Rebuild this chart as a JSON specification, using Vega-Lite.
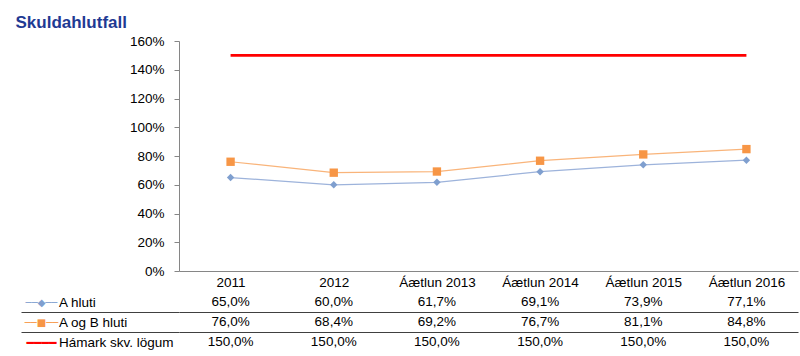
{
  "$schema": "https://vega.github.io/schema/vega-lite/v6.json",
  "background": "white",
  "padding": {"left": 15, "right": 3, "top": 14, "bottom": 4},
  "title": {"text": "Skuldahlutfall", "anchor": "start", "frame": "bounds", "font": "Liberation Sans", "fontSize": 17, "fontWeight": "bold", "color": "#1F3A93", "offset": 2, "dx": -5},
  "config": {
    "view": {"stroke": null},
    "font": "Liberation Sans",
    "locale": {"number": {"decimal": ",", "thousands": ".", "grouping": [3], "currency": ["", ""]}}
  },
  "data": {"values": [
    {"cat": "2011", "series": "A hluti", "value": 0.650},
    {"cat": "2012", "series": "A hluti", "value": 0.600},
    {"cat": "Áætlun 2013", "series": "A hluti", "value": 0.617},
    {"cat": "Áætlun 2014", "series": "A hluti", "value": 0.691},
    {"cat": "Áætlun 2015", "series": "A hluti", "value": 0.739},
    {"cat": "Áætlun 2016", "series": "A hluti", "value": 0.771},
    {"cat": "2011", "series": "A og B hluti", "value": 0.760},
    {"cat": "2012", "series": "A og B hluti", "value": 0.684},
    {"cat": "Áætlun 2013", "series": "A og B hluti", "value": 0.692},
    {"cat": "Áætlun 2014", "series": "A og B hluti", "value": 0.767},
    {"cat": "Áætlun 2015", "series": "A og B hluti", "value": 0.811},
    {"cat": "Áætlun 2016", "series": "A og B hluti", "value": 0.848},
    {"cat": "2011", "series": "Hámark skv. lögum", "value": 1.5},
    {"cat": "2012", "series": "Hámark skv. lögum", "value": 1.5},
    {"cat": "Áætlun 2013", "series": "Hámark skv. lögum", "value": 1.5},
    {"cat": "Áætlun 2014", "series": "Hámark skv. lögum", "value": 1.5},
    {"cat": "Áætlun 2015", "series": "Hámark skv. lögum", "value": 1.5},
    {"cat": "Áætlun 2016", "series": "Hámark skv. lögum", "value": 1.5}
  ]},
  "spacing": 21,
  "bounds": "flush",
  "vconcat": [
    {
      "width": 619,
      "height": 230,
      "encoding": {
        "x": {"field": "cat", "type": "nominal", "sort": ["2011", "2012", "Áætlun 2013", "Áætlun 2014", "Áætlun 2015", "Áætlun 2016"],
              "scale": {"paddingInner": 0, "paddingOuter": 0},
              "axis": {"title": null, "labelAngle": 0, "ticks": false, "domainColor": "#868686", "labelPadding": 4, "labelFontSize": 13.5, "labelColor": "black"}},
        "y": {"field": "value", "type": "quantitative", "scale": {"domain": [0, 1.6], "nice": false},
              "axis": {"title": null, "format": ".0%", "values": [0, 0.2, 0.4, 0.6, 0.8, 1.0, 1.2, 1.4, 1.6], "grid": false, "tickSize": 5, "tickColor": "#868686", "domainColor": "#868686", "labelPadding": 10, "labelFontSize": 13.5, "labelColor": "black"}}
      },
      "layer": [
        {
          "transform": [{"filter": "datum.series !== 'Hámark skv. lögum'"}],
          "mark": {"type": "line", "strokeWidth": 1.25},
          "encoding": {
            "color": {"field": "series", "type": "nominal",
              "scale": {"domain": ["A hluti", "A og B hluti"], "range": ["#9db3db", "#f9b47a"]},
              "legend": null}
          }
        },
        {
          "transform": [{"filter": "datum.series === 'Hámark skv. lögum'"}],
          "mark": {"type": "line", "strokeWidth": 2.75, "color": "#ff0000"}
        },
        {
          "transform": [{"filter": "datum.series === 'A hluti'"}],
          "mark": {"type": "point", "shape": "diamond", "filled": true, "size": 55, "color": "#7f9fcf", "opacity": 1}
        },
        {
          "transform": [{"filter": "datum.series === 'A og B hluti'"}],
          "mark": {"type": "point", "shape": "square", "filled": true, "size": 70, "color": "#f79646", "opacity": 1}
        }
      ]
    },
    {
      "width": 619,
      "height": 60,
      "encoding": {
        "x": {"field": "cat", "type": "nominal", "sort": ["2011", "2012", "Áætlun 2013", "Áætlun 2014", "Áætlun 2015", "Áætlun 2016"],
              "scale": {"paddingInner": 0, "paddingOuter": 0}, "axis": null}
      },
      "layer": [
        {
          "mark": {"type": "text", "fontSize": 13.5, "font": "Liberation Sans", "color": "black"},
          "encoding": {
            "y": {"field": "series", "type": "nominal", "sort": ["A hluti", "A og B hluti", "Hámark skv. lögum"],
                  "scale": {"paddingInner": 0, "paddingOuter": 0},
                  "axis": {"orient": "left", "title": null, "ticks": false, "tickSize": 0, "domain": false, "grid": false,
                           "labelAlign": "left", "labelPadding": 120.5, "labelFontSize": 13.5, "labelColor": "black", "labelFont": "Liberation Sans", "labelLimit": 0}},
            "text": {"field": "value", "type": "quantitative", "format": ".1%"}
          }
        },
        {
          "mark": {"type": "point", "opacity": 0},
          "encoding": {
            "y": {"field": "series", "type": "nominal", "sort": ["A hluti", "A og B hluti", "Hámark skv. lögum"],
                  "axis": {"orient": "left", "title": null, "ticks": false, "tickSize": 0, "domain": false, "grid": false,
                           "labelAlign": "center", "labelPadding": 138, "labelFont": "DejaVu Sans", "labelLimit": 0,
                           "labelFontSize": {"condition": {"test": "datum.value === 'Hámark skv. lögum'", "value": 12.5}, "value": 10},
                           "labelExpr": "datum.value === 'A hluti' ? '──◆──' : datum.value === 'A og B hluti' ? '──■──' : '━━━━'",
                           "labelColor": {"condition": [
                             {"test": "datum.value === 'A hluti'", "value": "#7f9fcf"},
                             {"test": "datum.value === 'A og B hluti'", "value": "#f79646"},
                             {"test": "datum.value === 'Hámark skv. lögum'", "value": "#ff0000"}
                           ], "value": "#ff0000"}}}
          }
        },
        {
          "mark": {"type": "point", "opacity": 0},
          "encoding": {
            "y": {"field": "series", "type": "nominal", "sort": ["A hluti", "A og B hluti", "Hámark skv. lögum"],
                  "axis": {"orient": "left", "title": null, "values": ["A og B hluti", "Hámark skv. lögum"], "tickOffset": -10,
                           "labels": false, "domain": false, "ticks": true, "tickSize": 158, "tickColor": "#404040",
                           "grid": true, "gridColor": "#404040", "gridOpacity": 1}}
          }
        }
      ],
      "resolve": {"axis": {"y": "independent"}}
    }
  ]
}
